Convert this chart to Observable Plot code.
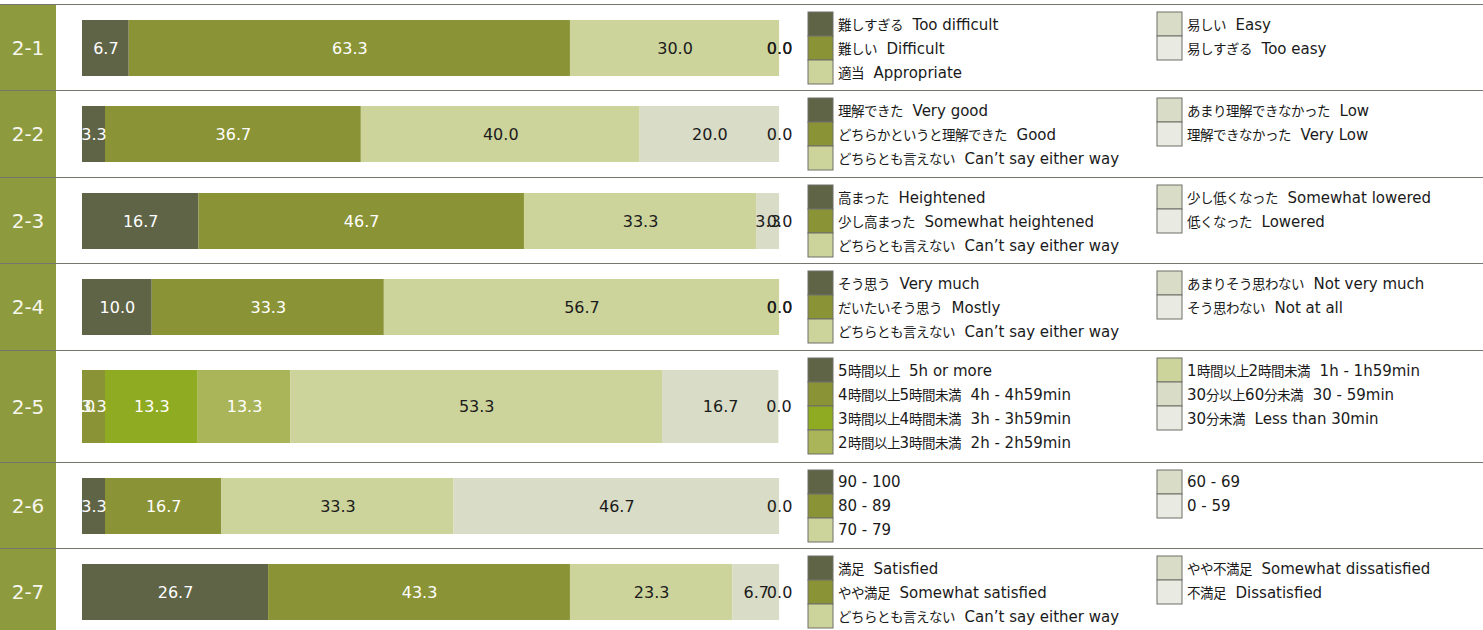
<!DOCTYPE html>
<html><head><meta charset="utf-8">
<script src="https://cdn.jsdelivr.net/npm/d3@7"></script>
<script src="https://cdn.jsdelivr.net/npm/@observablehq/plot@0.6"></script>
<style>
@font-face{font-family:"JPsmall";src:local("Noto Sans CJK JP Regular"),local("NotoSansCJKjp-Regular"),local("Noto Sans CJK JP");size-adjust:90%;unicode-range:U+3000-30FF,U+4E00-9FFF,U+FF00-FFEF;}
html,body{margin:0;padding:0;background:#fff;}
body{width:1483px;height:630px;overflow:hidden;position:relative;font-family:"DejaVu Sans","JPsmall","Noto Sans CJK JP",sans-serif;}
#chart{position:absolute;left:0;top:4px;width:1483px;}
.row{position:relative;border-top:1px solid #76766e;box-sizing:border-box;width:1483px;}
.lab{position:absolute;left:0;top:0;bottom:0;width:56px;background:#8d9a3e;color:#f6f6ec;font-size:20px;display:flex;align-items:center;justify-content:center;font-family:"DejaVu Sans",sans-serif;}
.bar{position:absolute;left:0;top:0;}
.lg-swatches{font-family:"DejaVu Sans","JPsmall","Noto Sans CJK JP",sans-serif !important;font-size:15px !important;margin:0 !important;color:#1a1a1a;}
.lg-swatch{padding-bottom:0 !important;height:24px;}
.lg-swatch > svg{margin-right:5px !important;}
.lg-swatch svg rect{stroke:#6e6e68;stroke-width:1px;}
.lg-swatch-label{white-space:pre !important;overflow:visible !important;}
</style>
</head><body>
<div id="chart"></div>
<script>
const rowIds = ["2-1", "2-2", "2-3", "2-4", "2-5", "2-6", "2-7"];

const labels_2_1 = ["難しすぎる  Too difficult", "難しい  Difficult", "適当  Appropriate", "易しい  Easy", "易しすぎる  Too easy"];
const values_2_1 = [6.7, 63.3, 30.0, 0.0, 0.0];

const labels_2_2 = ["理解できた  Very good", "どちらかというと理解できた  Good", "どちらとも言えない  Can’t say either way", "あまり理解できなかった  Low", "理解できなかった  Very Low"];
const values_2_2 = [3.3, 36.7, 40.0, 20.0, 0.0];

const labels_2_3 = ["高まった  Heightened", "少し高まった  Somewhat heightened", "どちらとも言えない  Can’t say either way", "少し低くなった  Somewhat lowered", "低くなった  Lowered"];
const values_2_3 = [16.7, 46.7, 33.3, 3.3, 0.0];

const labels_2_4 = ["そう思う  Very much", "だいたいそう思う  Mostly", "どちらとも言えない  Can’t say either way", "あまりそう思わない  Not very much", "そう思わない  Not at all"];
const values_2_4 = [10.0, 33.3, 56.7, 0.0, 0.0];

const labels_2_5 = ["5時間以上  5h or more", "4時間以上5時間未満  4h - 4h59min", "3時間以上4時間未満  3h - 3h59min", "2時間以上3時間未満  2h - 2h59min", "1時間以上2時間未満  1h - 1h59min", "30分以上60分未満  30 - 59min", "30分未満  Less than 30min"];
const values_2_5 = [0.0, 3.3, 13.3, 13.3, 53.3, 16.7, 0.0];

const labels_2_6 = ["90 - 100", "80 - 89", "70 - 79", "60 - 69", "0 - 59"];
const values_2_6 = [3.3, 16.7, 33.3, 46.7, 0.0];

const labels_2_7 = ["満足  Satisfied", "やや満足  Somewhat satisfied", "どちらとも言えない  Can’t say either way", "やや不満足  Somewhat dissatisfied", "不満足  Dissatisfied"];
const values_2_7 = [26.7, 43.3, 23.3, 6.7, 0.0];

const palette5 = ["#5f6447", "#8a9436", "#cdd49b", "#d9dcc6", "#e9eae1"];
const palette7 = ["#5f6447", "#8a9436", "#8fab22", "#a9b558", "#cdd49b", "#d9dcc6", "#e9eae1"];

const allLabels = [labels_2_1, labels_2_2, labels_2_3, labels_2_4, labels_2_5, labels_2_6, labels_2_7];
const allValues = [values_2_1, values_2_2, values_2_3, values_2_4, values_2_5, values_2_6, values_2_7];

const rowHeights = [86, 87, 86, 87, 112, 86, 86];
const chart = document.getElementById("chart");

rowIds.forEach((id, i) => {
  const labels = allLabels[i], values = allValues[i];
  const colors = labels.length === 7 ? palette7 : palette5;
  const data = labels.map((c, j) => ({cat: c, value: values[j], light: d3.lab(colors[j]).l < 75}));
  const h = rowHeights[i];
  const row = document.createElement("div");
  row.className = "row";
  row.style.height = h + "px";
  const lab = document.createElement("div");
  lab.className = "lab";
  lab.textContent = id;
  row.appendChild(lab);

  const n = labels.length;
  const k = Math.ceil(n / 2);
  const bh = k === 4 ? 73 : 56;
  const ph = h - 1;
  const mt = Math.round((ph - bh) / 2);
  const fmt = d => d.value.toFixed(1);
  const plot = Plot.plot({
    width: 800, height: ph,
    marginLeft: 82, marginRight: 0, marginTop: mt, marginBottom: ph - mt - bh,
    x: {domain: [0, 103], axis: null},
    color: {domain: labels, range: colors},
    style: {fontFamily: "'DejaVu Sans', sans-serif", fontSize: "16px", background: "transparent"},
    marks: [
      Plot.barX(data, Plot.stackX({x: "value", fill: "cat"})),
      Plot.text(data, Plot.stackX({x: "value", text: d => d.light ? fmt(d) : null, fill: "#ffffff", fontSize: 16, clip: true})),
      Plot.text(data, Plot.stackX({x: "value", text: d => d.light ? null : fmt(d), fill: "#1b1b1b", fontSize: 16, clip: true}))
    ]
  });
  plot.classList.add("bar");
  row.appendChild(plot);

  [[0, k, 808], [k, n, 1157]].forEach(([a, b, left]) => {
    const lg = Plot.legend({
      color: {type: "ordinal", domain: labels.slice(a, b), range: colors.slice(a, b)},
      columns: 1, swatchWidth: 25, swatchHeight: 24, className: "lg"
    });
    lg.style.position = "absolute";
    lg.style.left = left + "px";
    lg.style.top = "7px";
    row.appendChild(lg);
  });
  chart.appendChild(row);
});
</script>
</body></html>
